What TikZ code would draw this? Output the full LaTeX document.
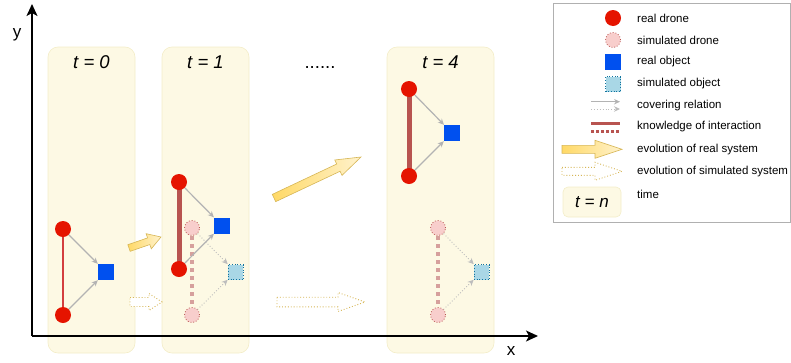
\documentclass[tikz,border=0pt]{standalone}
\usepackage{fontspec}
\setmainfont{Liberation Sans}
\usetikzlibrary{calc,arrows.meta}
\definecolor{panelfill}{HTML}{FDF9E4}
\definecolor{paneldraw}{HTML}{F3EDC8}
\definecolor{dronered}{HTML}{E51400}
\definecolor{objblue}{HTML}{0050EF}
\definecolor{simfill}{HTML}{F8CECC}
\definecolor{simdraw}{HTML}{B85450}
\definecolor{simobjfill}{HTML}{A9D7E6}
\definecolor{simobjdraw}{HTML}{10739E}
\definecolor{covgray}{HTML}{B3B3B3}
\definecolor{simcovgray}{HTML}{BDBDBD}
\definecolor{knowred}{HTML}{B85450}
\definecolor{thinred}{HTML}{D33F3F}
\definecolor{simknowred}{HTML}{D6A09C}
\definecolor{evofillA}{HTML}{FFD966}
\definecolor{evofillB}{HTML}{FFF2CC}
\definecolor{evodraw}{HTML}{D6B656}
\definecolor{legenddraw}{HTML}{B0B0B0}
\pgfdeclarelayer{bg}
\pgfdeclarelayer{lines}
\pgfsetlayers{bg,lines,main}
\tikzset{
  panel/.style={draw=paneldraw, fill=panelfill, rounded corners=10pt, line width=0.6pt},
  drone/.style={circle, fill=dronered, inner sep=0pt, minimum size=16pt},
  simdrone/.style={circle, fill=simfill, draw=simdraw, dotted, line width=0.8pt, inner sep=0pt, minimum size=15pt},
  obj/.style={rectangle, fill=objblue, inner sep=0pt, minimum width=16pt, minimum height=16pt},
  simobj/.style={rectangle, fill=simobjfill, draw=simobjdraw, dotted, line width=0.7pt, inner sep=0pt, minimum size=15pt},
  cover/.style={draw=covgray, line width=1.2pt, -{Stealth[length=6pt,width=5.5pt]}},
  simcover/.style={draw=simcovgray, line width=0.9pt, dotted, -{Stealth[length=6pt,width=5.5pt]}},
  knowthick/.style={draw=knowred, line width=5pt},
  knowthin/.style={draw=thinred, line width=1.2pt},
  simknow/.style={draw=simknowred, line width=4.5pt, dash pattern=on 4pt off 4pt},
  axisline/.style={line width=1.3pt, -{Stealth[length=12pt,width=11pt,inset=3pt]}},
  realevo/.style={draw=evodraw, line width=0.6pt, left color=evofillA, right color=evofillB},
  simevo/.style={draw=evodraw, line width=0.9pt, dotted, fill=white},
  title/.style={font=\fontsize{18.5}{22}\selectfont\itshape, anchor=base, inner sep=0pt},
  legtext/.style={font=\fontsize{11.5}{13}\selectfont, anchor=west, inner sep=0pt},
  axlabel/.style={font=\fontsize{17}{20}\selectfont, inner sep=0pt},
}
% arrow shape: #1 tail, #2 tip, #3 body half-width, #4 head half-width, #5 head length, #6 style
\newcommand{\evoarrow}[6]{%
  \coordinate (#1-h) at ($(#2)!#5!(#1)$);
  \path[#6] ($(#1)!#3!90:(#2)$) -- ($(#1-h)!#3!-90:(#1)$) -- ($(#1-h)!#4!-90:(#1)$)
    -- (#2) -- ($(#1-h)!#4!90:(#1)$) -- ($(#1-h)!#3!90:(#1)$) -- ($(#1)!#3!-90:(#2)$) -- cycle;
}
\begin{document}
\begin{tikzpicture}[x=1pt,y=-1pt]
\useasboundingbox (0,0) rectangle (791,362);
% panels
\begin{pgfonlayer}{bg}
  \draw[panel] (48,47) rectangle (135,353);
  \draw[panel] (162,47) rectangle (249,353);
  \draw[panel] (387,47) rectangle (494,353);
\end{pgfonlayer}
% titles
\node[title] (t0) at (91.5,68) {t = 0};
\node[title] (t1) at (205.5,68) {t = 1};
\node[title] (t4) at (440.5,68) {t = 4};
\node[title, font=\fontsize{18.5}{22}\selectfont] (dots) at (320,68) {......};
% axes
\coordinate (O) at (32,336);
\coordinate (Yend) at (32,4);
\coordinate (Xend) at (538,336);
\draw[axisline] (O) -- (Yend);
\draw[axisline] (O) -- (Xend);
\node[axlabel] (ylab) at (17,35) {y};
\node[axlabel] (xlab) at (511,351) {x};
% panel 0
\node[drone] (a1) at (63,229) {};
\node[drone] (a2) at (63,315) {};
\node[obj] (ao) at (106,272) {};
% panel 1
\node[simdrone] (bs1) at (192,228) {};
\node[simdrone] (bs2) at (192,315) {};
\node[simobj] (bso) at (235.5,272) {};
\node[drone] (b1) at (179,182) {};
\node[drone] (b2) at (179,269) {};
\node[obj] (bo) at (222,225.5) {};
% panel 4
\node[drone] (c1) at (409,89) {};
\node[drone] (c2) at (409,176) {};
\node[obj] (co) at (452,133) {};
\node[simdrone] (cs1) at (438,228) {};
\node[simdrone] (cs2) at (438,315) {};
\node[simobj] (cso) at (481.5,272) {};
\begin{pgfonlayer}{lines}
  \draw[knowthin] (a1.center) -- (a2.center);
  \draw[simknow] (bs1.center) -- (bs2.center);
  \draw[knowthick] (b1.center) -- (b2.center);
  \draw[knowthick] (c1.center) -- (c2.center);
  \draw[simknow] (cs1.center) -- (cs2.center);
\end{pgfonlayer}
\draw[cover] (a1) -- (ao);
\draw[cover] (a2) -- (ao);
\draw[simcover] (bs1) -- (bso);
\draw[simcover] (bs2) -- (bso);
\draw[cover] (b1) -- (bo);
\draw[cover] (b2) -- (bo);
\draw[cover] (c1) -- (co);
\draw[cover] (c2) -- (co);
\draw[simcover] (cs1) -- (cso);
\draw[simcover] (cs2) -- (cso);
% evolution arrows
\coordinate (r1s) at (129,248); \coordinate (r1e) at (161,237);
\coordinate (r2s) at (274,198); \coordinate (r2e) at (361,157);
\coordinate (s1s) at (130,302); \coordinate (s1e) at (162,302);
\coordinate (s2s) at (277,302); \coordinate (s2e) at (365,302);
\evoarrow{r1s}{r1e}{3.5pt}{8pt}{13pt}{realevo}
\evoarrow{r2s}{r2e}{4pt}{8.5pt}{25pt}{realevo}
\evoarrow{s1s}{s1e}{4.5pt}{8.5pt}{13pt}{simevo}
\evoarrow{s2s}{s2e}{4.8pt}{9.5pt}{27pt}{simevo}
% legend
\draw[draw=legenddraw, line width=0.9pt] (553,3) rectangle (790,222);
\node[drone] (ld) at (613,18) {};
\node[simdrone] (lsd) at (613,40) {};
\node[obj] (lo) at (613,62) {};
\node[simobj] (lso) at (613,84) {};
\coordinate (lc1a) at (591,101.7); \coordinate (lc1b) at (620,101.7);
\coordinate (lc2a) at (591,109); \coordinate (lc2b) at (620,109);
\draw[cover] (lc1a) -- (lc1b);
\draw[simcover] (lc2a) -- (lc2b);
\coordinate (lk1a) at (591,123.3); \coordinate (lk1b) at (620,123.3);
\coordinate (lk2a) at (591,131.3); \coordinate (lk2b) at (620,131.3);
\draw[draw=knowred, line width=3pt] (lk1a) -- (lk1b);
\draw[draw=knowred, line width=3pt, dash pattern=on 2.5pt off 2.5pt] (lk2a) -- (lk2b);
\coordinate (le1s) at (562,149.3); \coordinate (le1e) at (622,149.3);
\coordinate (le2s) at (562,171.3); \coordinate (le2e) at (622,171.3);
\evoarrow{le1s}{le1e}{4pt}{9pt}{27pt}{realevo}
\evoarrow{le2s}{le2e}{4pt}{9pt}{27pt}{simevo}
\node[draw=paneldraw, fill=panelfill, rounded corners=5pt, line width=0.6pt, minimum width=58pt, minimum height=30pt,
      font=\fontsize{17}{20}\selectfont\itshape] (ltn) at (592,202) {t = n};
\node[legtext] (lt1) at (637,18) {real drone};
\node[legtext] (lt2) at (637,40) {simulated drone};
\node[legtext] (lt3) at (637,62) {real object};
\node[legtext] (lt4) at (637,84) {simulated object};
\node[legtext] (lt5) at (637,105.7) {covering relation};
\node[legtext] (lt6) at (637,127) {knowledge of interaction};
\node[legtext] (lt7) at (637,149.3) {evolution of real system};
\node[legtext] (lt8) at (637,171.5) {evolution of simulated system};
\node[legtext] (lt9) at (637,194.5) {time};
\end{tikzpicture}
\end{document}
